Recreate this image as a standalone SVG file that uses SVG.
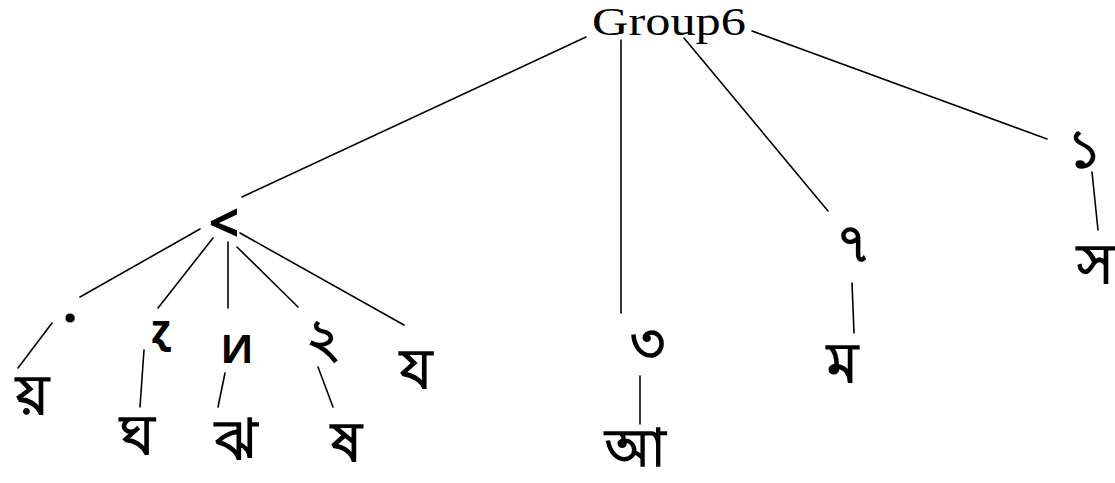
<svg xmlns="http://www.w3.org/2000/svg" width="1115" height="483" viewBox="0 0 1115 483">
<style>
.bg{fill:#ffffff}
.e{stroke:#000;stroke-width:1.6;fill:none;stroke-linecap:round}
.t{font-family:"Noto Sans","DejaVu Sans",sans-serif;fill:#000;text-anchor:middle;font-weight:bold}
.l{font-size:56px}
.c{font-size:54px}
.s{font-size:40px}
.g{font-family:"Liberation Serif",serif;font-size:39px;fill:#000}
</style>
<rect class="bg" width="1115" height="483"/>
<g id="connectors">
<line class="e" x1="586" y1="37" x2="242" y2="197"/>
<line class="e" x1="621" y1="40" x2="621" y2="313"/>
<line class="e" x1="684" y1="38" x2="828" y2="211"/>
<line class="e" x1="752" y1="31" x2="1047" y2="139"/>
<line class="e" x1="1092" y1="172" x2="1098" y2="230"/>
<line class="e" x1="852" y1="283" x2="854" y2="333"/>
<line class="e" x1="640" y1="376" x2="640" y2="424"/>
<line class="e" x1="200" y1="229" x2="80" y2="297"/>
<line class="e" x1="213" y1="238" x2="158" y2="308"/>
<line class="e" x1="228" y1="242" x2="228" y2="308"/>
<line class="e" x1="237" y1="247" x2="298" y2="307"/>
<line class="e" x1="240" y1="233" x2="404" y2="325"/>
<line class="e" x1="52" y1="323" x2="18" y2="368"/>
<line class="e" x1="144" y1="350" x2="140" y2="407"/>
<line class="e" x1="225" y1="373" x2="218" y2="407"/>
<line class="e" x1="318" y1="367" x2="333" y2="407"/>
</g>
<g id="n-group6"><text class="g" x="592" y="35" textLength="154" lengthAdjust="spacingAndGlyphs">Group6</text></g>
<g id="n-lt"><text class="t c" x="224" y="242">&lt;</text></g>
<g id="n-dot"><text class="t c" x="70" y="322">.</text></g>
<g id="n-z1"><text class="t s" x="161" y="343">ɀ</text></g>
<g id="n-jh1"><text class="t s" x="237" y="363">Ͷ</text></g>
<g id="n-two"><text class="t c" x="323" y="357">২</text></g>
<g id="n-ya"><text class="t l" x="416" y="388">য</text></g>
<g id="n-yya"><text class="t l" x="32" y="414">য়</text></g>
<g id="n-gha"><text class="t l" x="137" y="454">ঘ</text></g>
<g id="n-jha"><text class="t l" x="236" y="459">ঝ</text></g>
<g id="n-ssa"><text class="t l" x="346" y="461">ষ</text></g>
<g id="n-three"><text class="t c" x="647" y="362">৩</text></g>
<g id="n-aa"><text class="t" style="font-size:52px" x="635" y="466">আ</text></g>
<g id="n-seven"><text class="t c" x="853" y="262">৭</text></g>
<g id="n-ma"><text class="t l" x="842" y="382">ম</text></g>
<g id="n-one"><text class="t c" x="1084" y="168">১</text></g>
<g id="n-sa"><text class="t l" x="1095" y="283">স</text></g>
</svg>
